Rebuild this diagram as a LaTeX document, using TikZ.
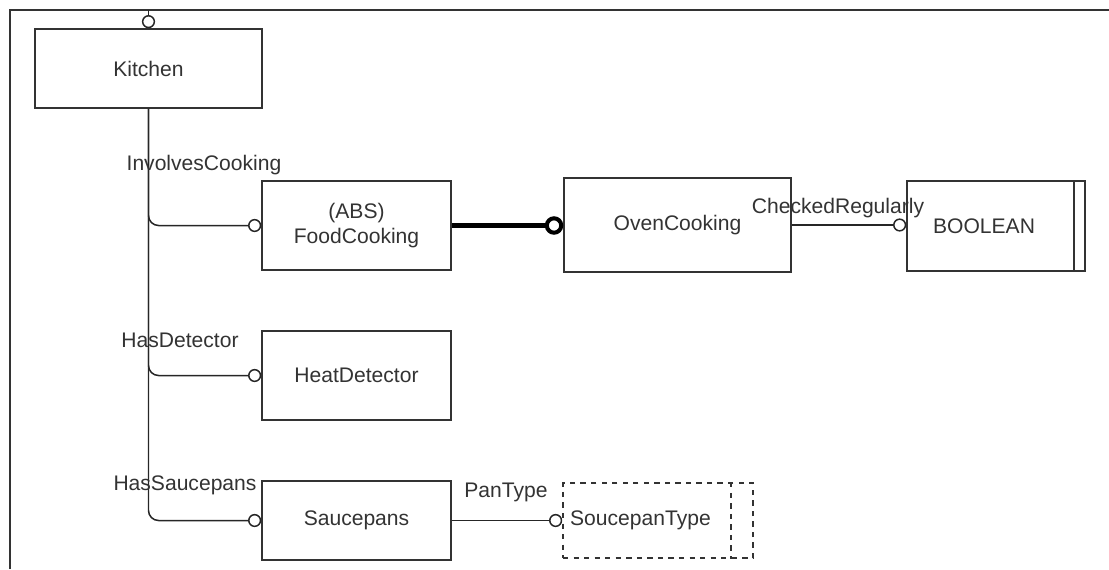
\documentclass[tikz,border=0pt]{standalone}
\usepackage{fontspec}
\setmainfont{Liberation Sans}
\usetikzlibrary{arrows.meta}

\begin{document}
\begin{tikzpicture}[x=0.02cm, y=-0.02cm,
    ent/.style={draw=black!80, line width=0.9pt, minimum width=3.78cm, minimum height=1.78cm, align=center, font=\fontsize{12}{14.5}\selectfont, text=black!80},
    val/.style={ent, minimum width=3.56cm, minimum height=1.8cm},
    rel/.style={black!85, line width=0.85pt, rounded corners=0.2cm, -{Circle[open, length=7.5pt]}},
    sub/.style={black, line width=2.3pt, -{Circle[open, length=10.5pt]}},
    lbl/.style={font=\fontsize{12}{14.5}\selectfont, text=black!80, inner sep=0pt},
    frm/.style={black!80, line width=0.6pt}
]
\useasboundingbox (0,0) rectangle (1109,569);

\node[ent, minimum width=4.54cm, minimum height=1.58cm] (kit) at (148.5,68.5) {Kitchen};
\node[ent] (food) at (356.5,225.5) {(ABS)\\FoodCooking};
\node[ent, minimum width=4.54cm, minimum height=1.88cm] (oven) at (677.5,225) {OvenCooking};
\node[val] (bool) at (996,226) {BOOLEAN\hspace*{0.48cm}};
\node[ent] (heat) at (356.5,375.5) {HeatDetector};
\node[ent, minimum height=1.58cm] (pans) at (356.5,520.5) {Saucepans};
\node[val, dashed, minimum width=3.8cm, minimum height=1.5cm] (ptype) at (658,520.5) {SoucepanType\hspace*{0.7cm}};

\draw[black!80, line width=0.9pt] ([xshift=-0.24cm]bool.north east) -- ([xshift=-0.24cm]bool.south east);
\draw[black!80, line width=0.9pt, dashed] ([xshift=-0.46cm]ptype.north east) -- ([xshift=-0.46cm]ptype.south east);

\coordinate (fr) at (10,10);
\coordinate (top) at (148.5,10);
\draw[frm] (10,569) -- (fr) -- (1109,10);

\draw[rel] (top) -- (kit.north);
\draw[rel] (kit.south) |- (food.west);
\draw[rel] (kit.south) |- (heat.west);
\draw[rel] (kit.south) |- (pans.west);
\draw[sub] (food.east) -- (oven.west |- food.east);
\draw[rel] (oven.east) -- (bool.west |- oven.east);
\draw[rel] (pans.east) -- (ptype.west |- pans.east);

\node[lbl] (lInv) at (204,165) {InvolvesCooking};
\node[lbl] (lDet) at (180,340) {HasDetector};
\node[lbl] (lPan) at (185,485) {HasSaucepans};
\node[lbl] (lType) at (506,492) {PanType};
\node[lbl] (lChk) at (838,208) {CheckedRegularly};
\end{tikzpicture}
\end{document}
